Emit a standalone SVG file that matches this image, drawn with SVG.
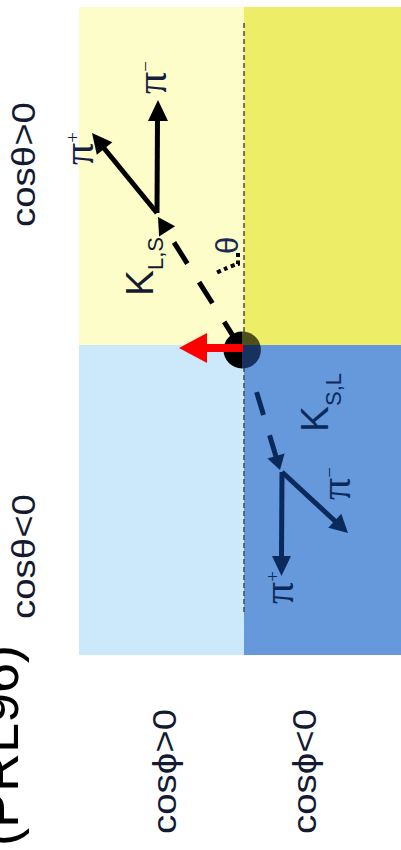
<svg xmlns="http://www.w3.org/2000/svg" width="401" height="850" viewBox="0 0 401 850">
<style>
.lbl{font-family:"Liberation Sans",Arial,sans-serif;fill:#141a30}
.pi{font-family:"Liberation Serif","Times New Roman",serif}
.blk{stroke:#000;stroke-width:5;fill:none}
.nav{stroke:#0b2a5c;stroke-width:5;fill:none}
</style>
<g id="regions">
<rect x="79" y="7" width="165" height="338" fill="#fdfdc9"/>
<rect x="244" y="7" width="157" height="338" fill="#eded67"/>
<rect x="79" y="345" width="165" height="310" fill="#cce9fc"/>
<rect x="244" y="345" width="157" height="310" fill="#6599db"/>
</g>
<g id="axis">
<line x1="244" y1="23" x2="244" y2="615" stroke="#4a4a4a" stroke-width="1.5" stroke-dasharray="5 3"/>
</g>
<g id="connectors">
<line class="blk" x1="174" y1="242.4" x2="235.4" y2="339.7" stroke-dasharray="25 22" stroke-width="5.5"/>
<polygon points="158,217 175.1,226.3 159.1,236.5" fill="#000"/>
<line class="blk" x1="157" y1="213" x2="157.5" y2="118"/>
<polygon points="158,100 148,121 168,121" fill="#000"/>
<line class="blk" x1="157" y1="213" x2="103" y2="147"/>
<polygon points="92,133 112.4,142.2 96.8,154.8" fill="#000"/>
<path d="M238,253 V264 Q230,266 214,274" fill="none" stroke="#000" stroke-width="4" stroke-dasharray="4 3.5"/>
<line class="nav" x1="256.6" y1="392.1" x2="276.2" y2="457.3" stroke-dasharray="24 21" stroke-width="5.5"/>
<polygon points="280,470 284.6,453.4 267.4,458.6" fill="#0b2a5c"/>
<line class="nav" x1="282" y1="472" x2="281.5" y2="558"/>
<polygon points="281.5,576 272,556 291,556" fill="#0b2a5c"/>
<line class="nav" x1="282" y1="472" x2="336" y2="522"/>
<polygon points="348,533 341.3,513.8 328.3,527.8" fill="#0b2a5c"/>
</g>
<g id="origin">
<path d="M242,331.5 A18.5,18.5 0 0 0 242,368.5 Z" fill="#000"/>
<path d="M242,331.5 A18.5,18.5 0 0 1 260.2,345 L242,345 Z" fill="#4f4f1e"/>
<path d="M260.2,345 A18.5,18.5 0 0 1 242,368.5 L242,345 Z" fill="#183260"/>
</g>
<g id="red-arrow">
<line x1="243" y1="348" x2="203" y2="348" stroke="#ff0000" stroke-width="8"/>
<polygon points="179,348 207,333 207,363" fill="#ff0000"/>
</g>
<g id="labels">
<text class="lbl" font-size="33" transform="translate(35,227) rotate(-90)" textLength="125" lengthAdjust="spacingAndGlyphs">cosθ&gt;0</text>
<text class="lbl" font-size="33" transform="translate(35,619) rotate(-90)" textLength="125" lengthAdjust="spacingAndGlyphs">cosθ&lt;0</text>
<text class="lbl" font-size="33" transform="translate(176,834) rotate(-90)" textLength="125" lengthAdjust="spacingAndGlyphs">cosϕ&gt;0</text>
<text class="lbl" font-size="33" transform="translate(316,834) rotate(-90)" textLength="125" lengthAdjust="spacingAndGlyphs">cosϕ&lt;0</text>
<text font-family="Liberation Sans,Arial,sans-serif" font-size="54" fill="#000" text-anchor="end" transform="translate(18,645) rotate(-90)">(PRL96)</text>
<text class="lbl" font-size="39" fill="#111" transform="translate(153,296) rotate(-90)">K<tspan font-size="22" dy="10">L,S</tspan></text>
<text font-family="Liberation Sans,Arial,sans-serif" font-size="39" fill="#0b2a5c" transform="translate(328,432) rotate(-90)">K<tspan font-size="22" dy="13">S,L</tspan></text>
<text font-family="Liberation Sans,Arial,sans-serif" font-size="31" fill="#1a2a55" transform="translate(238,254) rotate(-90)">θ</text>
<text class="pi" font-size="44" fill="#142040" transform="translate(93,165) rotate(-90)">π<tspan font-size="19" dy="-14">+</tspan></text>
<text class="pi" font-size="44" fill="#142040" transform="translate(166,94) rotate(-90)">π<tspan font-size="19" dy="-14">−</tspan></text>
<text class="pi" font-size="44" fill="#0b2a5c" transform="translate(350,500) rotate(-90)">π<tspan font-size="19" dy="-14">−</tspan></text>
<text class="pi" font-size="44" fill="#0b2a5c" transform="translate(293,604) rotate(-90)">π<tspan font-size="19" dy="-14">+</tspan></text>
</g>
</svg>
